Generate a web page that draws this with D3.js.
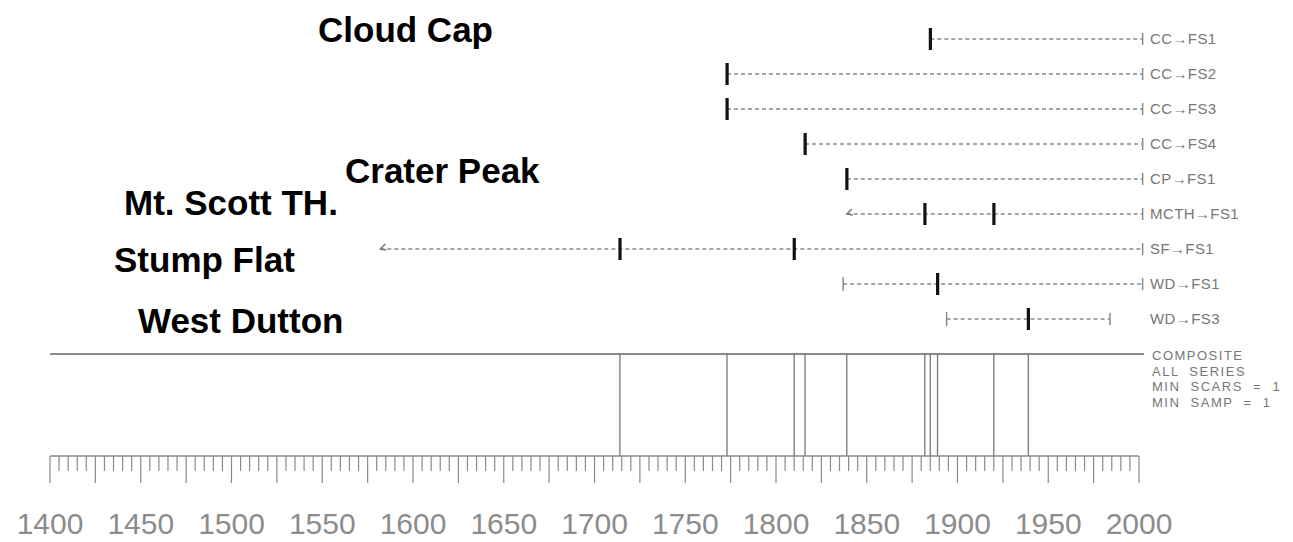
<!DOCTYPE html>
<meta charset="utf-8">
<style>
    body {margin: 0; background: #fff;}
    svg {font-family: 'Liberation Sans', Arial, sans-serif;}
</style>
<body>
<svg width="1293" height="542"></svg>
<script src="https://cdn.jsdelivr.net/npm/d3@7"></script>
<script>

// fire history series, top to bottom
var series = ["CC\u2192FS1", "CC\u2192FS2", "CC\u2192FS3", "CC\u2192FS4", "CP\u2192FS1",
              "MCTH\u2192FS1", "SF\u2192FS1", "WD\u2192FS1", "WD\u2192FS3"];
var firstYear = [1885, 1773, 1773, 1816, 1839, 1839, 1582, 1837, 1894];
var firstType = ["scar", "scar", "scar", "scar", "scar", "inner", "inner", "pith", "pith"];
var lastYear  = [2002, 2002, 2002, 2002, 2002, 2002, 2002, 2002, 1984];
var scarYears = [[1885], [1773], [1773], [1816], [1839], [1882, 1920], [1714, 1810], [1889], [1939]];

var siteNames = ["Cloud Cap", "Crater Peak", "Mt. Scott TH.", "Stump Flat", "West Dutton"];
var compositeText = ["COMPOSITE", "ALL  SERIES", "MIN  SCARS  =  1", "MIN  SAMP  =  1"];
var tickYears = d3.range(1400, 2001, 5);
var labelYears = d3.range(1400, 2001, 50);

var svg = d3.select("svg");

var x = d3.scaleLinear().domain([1400, 2000]).range([50, 1139]);
var y = d3.scalePoint().domain(series).range([39, 319]);

var compY = 354, axisY = 456;

// composite years = every scar year of every series
var compYears = Array.from(new Set(scarYears.flat())).sort(d3.ascending);

var rows = series.map(function(s, i) {
  return {name: s, first: firstYear[i], type: firstType[i], last: lastYear[i], scars: scarYears[i]};
});

// dashed recorder lines
var row = svg.append("g").selectAll("g")
    .data(rows)
  .enter().append("g")
    .attr("transform", function(d) { return "translate(0," + y(d.name) + ")"; });

row.append("line")
    .attr("x1", function(d) { return x(d.first); })
    .attr("x2", function(d) { return x(d.last); })
    .style("stroke", "#8a8a8a")
    .style("stroke-width", "1.6px")
    .style("stroke-dasharray", "4,3");

// end (bark) marks
row.append("line")
    .attr("x1", function(d) { return x(d.last); })
    .attr("x2", function(d) { return x(d.last); })
    .attr("y1", -6).attr("y2", 6)
    .style("stroke", "#8a8a8a").style("stroke-width", "1.5px");

// pith marks
row.filter(function(d) { return d.type == "pith"; })
  .append("line")
    .attr("x1", function(d) { return x(d.first); })
    .attr("x2", function(d) { return x(d.first); })
    .attr("y1", -7).attr("y2", 7)
    .style("stroke", "#8a8a8a").style("stroke-width", "1.5px");

// inner ring marks
row.filter(function(d) { return d.type == "inner"; })
  .append("path")
    .attr("d", function(d) { var a = x(d.first); return "M" + (a + 5) + ",-5L" + a + ",0L" + (a + 6) + ",1"; })
    .style("fill", "none").style("stroke", "#777").style("stroke-width", "1.4px");

// fire scars
row.selectAll("rect")
    .data(function(d) { return d.scars; })
  .enter().append("rect")
    .attr("x", function(d) { return x(d) - 1.5; })
    .attr("y", -11)
    .attr("width", 3.2)
    .attr("height", 22)
    .style("fill", "#111");

// series names on the right
row.append("text")
    .attr("x", 1150)
    .attr("y", 0)
    .attr("dy", "0.32em")
    .style("font-size", "15px")
    .style("letter-spacing", "0.4px")
    .style("fill", "#777")
    .text(function(d) { return d.name; });

// composite
svg.append("line")
    .attr("x1", 50).attr("x2", 1144)
    .attr("y1", compY).attr("y2", compY)
    .style("stroke", "#8a8a8a").style("stroke-width", "2px");

svg.append("g").selectAll("line")
    .data(compYears)
  .enter().append("line")
    .attr("x1", function(d) { return x(d); })
    .attr("x2", function(d) { return x(d); })
    .attr("y1", compY).attr("y2", axisY)
    .style("stroke", "#777").style("stroke-width", "1.3px");

svg.append("g").selectAll("text")
    .data(compositeText)
  .enter().append("text")
    .attr("x", 1152)
    .attr("y", function(d, i) { return 360 + i * 15.5; })
    .attr("xml:space", "preserve")
    .style("white-space", "pre")
    .style("font-size", "13px")
    .style("letter-spacing", "1.5px")
    .style("fill", "#777")
    .text(function(d) { return d; });

// time axis
var axis = svg.append("g");
axis.append("line")
    .attr("x1", x(1400)).attr("x2", x(2000))
    .attr("y1", axisY).attr("y2", axisY)
    .style("stroke", "#8a8a8a").style("stroke-width", "1.5px");

axis.selectAll(".tick")
    .data(tickYears)
  .enter().append("line")
    .attr("class", "tick")
    .attr("x1", function(d) { return x(d); })
    .attr("x2", function(d) { return x(d); })
    .attr("y1", axisY)
    .attr("y2", function(d) { return d % 25 == 0 ? axisY + 27 : axisY + 15; })
    .style("stroke", "#8a8a8a").style("stroke-width", "1.2px");

axis.selectAll(".lab")
    .data(labelYears)
  .enter().append("text")
    .attr("class", "lab")
    .attr("x", function(d) { return x(d); })
    .attr("y", 534)
    .attr("text-anchor", "middle")
    .style("font-size", "30px")
    .style("fill", "#8c8c8c")
    .text(function(d) { return d; });

// site names pasted over the plot
var notePos = [[318, 42], [345, 183], [124, 215], [114, 272], [138, 333]];
svg.append("g").selectAll("text")
    .data(siteNames)
  .enter().append("text")
    .attr("x", function(d, i) { return notePos[i][0]; })
    .attr("y", function(d, i) { return notePos[i][1]; })
    .style("font-size", "35px")
    .style("font-weight", "bold")
    .style("fill", "#000")
    .text(function(d) { return d; });

</script>
</body>
